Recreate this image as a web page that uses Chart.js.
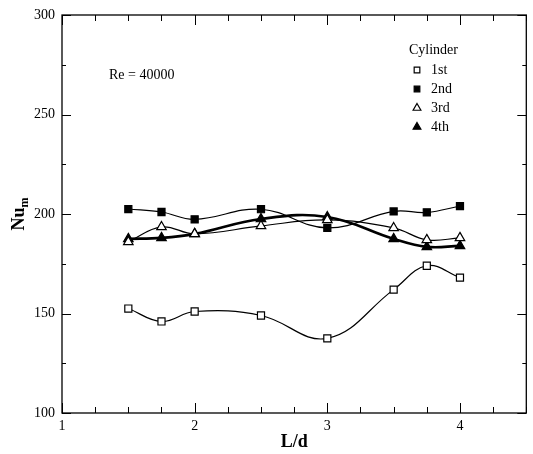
<!DOCTYPE html>
<html>
<head>
<meta charset="utf-8">
<script src="https://cdn.jsdelivr.net/npm/chart.js@4.4.0/dist/chart.umd.min.js"></script>
<style>
html,body{margin:0;padding:0;background:#fff;}
#wrap{width:533px;height:454px;position:relative;}
</style>
</head>
<body>
<div id="wrap"><canvas id="c" width="533" height="454"></canvas></div>
<script>
const ldValues = [1.5, 1.75, 2, 2.5, 3, 3.5, 3.75, 4];
const cyl1 = [152.5, 146, 151, 149, 137.5, 162, 174, 168];
const cyl2 = [202.5, 201, 197.3, 202.4, 193, 201.3, 200.8, 204];
const cyl3 = [186, 193.5, 190, 194, 197, 193, 187, 188];
const cyl4 = [187.5, 188, 190, 197.5, 198.5, 187.5, 183.5, 184];
const seriesNames = ['1st', '2nd', '3rd', '4th'];
const xTickLabels = ['1', '2', '3', '4'];
const yTickLabels = ['100', '150', '200', '250', '300'];

const SERIF = '"Liberation Serif", "DejaVu Serif", serif';

function pts(vals){ return ldValues.map((x,i)=>({x:x, y:vals[i]})); }

const styles = [
  {pointStyle:'rect', bg:'#fff', r:5, bw:1.2, lw:1.2},
  {pointStyle:'rect', bg:'#000', r:5, bw:1.2, lw:1.2},
  {pointStyle:'triangle', bg:'#fff', r:5.5, bw:1.2, lw:1.2},
  {pointStyle:'triangle', bg:'#000', r:5.5, bw:1.2, lw:2.6}
];
const allVals = [cyl1, cyl2, cyl3, cyl4];

const datasets = allVals.map((v,i)=>({
  label: seriesNames[i],
  data: pts(v),
  borderColor:'#000',
  borderWidth: styles[i].lw,
  tension: 0.4,
  pointStyle: styles[i].pointStyle,
  pointRadius: styles[i].r,
  pointBackgroundColor: styles[i].bg,
  pointBorderColor: '#000',
  pointBorderWidth: styles[i].bw,
  fill:false
}));

const framePlugin = {
  id:'frame',
  afterDraw(chart){
    const ctx = chart.ctx;
    const a = chart.chartArea;
    const xs = chart.scales.x, ys = chart.scales.y;
    ctx.save();
    ctx.strokeStyle = '#000';
    ctx.lineWidth = 1.3;
    ctx.strokeRect(a.left, a.top, a.right - a.left, a.bottom - a.top);
    ctx.lineWidth = 1;
    ctx.beginPath();
    for (let v = 1; v <= 4.5 + 1e-9; v += 0.25){
      const px = Math.round(xs.getPixelForValue(v)) + 0.5;
      const major = Math.abs(v - Math.round(v)) < 1e-6;
      const len = major ? 10 : 6;
      ctx.moveTo(px, a.bottom); ctx.lineTo(px, a.bottom - len);
      ctx.moveTo(px, a.top); ctx.lineTo(px, a.top + len);
    }
    for (let v = 100; v <= 300; v += 25){
      const py = Math.round(ys.getPixelForValue(v)) + 0.5;
      const major = v % 50 === 0;
      const len = major ? 9 : 4;
      ctx.moveTo(a.left, py); ctx.lineTo(a.left + len, py);
      ctx.moveTo(a.right, py); ctx.lineTo(a.right - len, py);
    }
    ctx.stroke();

    // axis titles
    ctx.fillStyle = '#000';
    ctx.font = 'bold 18px ' + SERIF;
    ctx.textAlign = 'center';
    ctx.textBaseline = 'alphabetic';
    ctx.fillText('L/d', (a.left + a.right)/2, 447);

    ctx.save();
    ctx.translate(24, (a.top + a.bottom)/2);
    ctx.rotate(-Math.PI/2);
    ctx.font = 'bold 18px ' + SERIF;
    const w1 = ctx.measureText('Nu').width;
    ctx.font = 'bold 12px ' + SERIF;
    const w2 = ctx.measureText('m').width;
    const start = -(w1 + w2)/2;
    ctx.textAlign = 'left';
    ctx.font = 'bold 18px ' + SERIF;
    ctx.fillText('Nu', start, 0);
    ctx.font = 'bold 12px ' + SERIF;
    ctx.fillText('m', start + w1, 4);
    ctx.restore();

    // annotation
    ctx.font = '14px ' + SERIF;
    ctx.textAlign = 'left';
    ctx.textBaseline = 'middle';
    ctx.fillText('Re = 40000', 109, 75);

    // legend
    ctx.fillText('Cylinder', 409, 50);
    const ly = [70, 89, 108, 127];
    chart.data.datasets.forEach((ds, i) => {
      ctx.save();
      ctx.lineWidth = 1.2;
      ctx.strokeStyle = '#000';
      ctx.fillStyle = ds.pointBackgroundColor;
      Chart.helpers.drawPoint(ctx, {pointStyle: ds.pointStyle, radius: ds.pointRadius - 1, rotation: 0, borderWidth: 1.2}, 417, ly[i]);
      ctx.restore();
      ctx.fillStyle = '#000';
      ctx.fillText(ds.label, 431, ly[i]);
    });
    ctx.restore();
  }
};

new Chart(document.getElementById('c'), {
  type:'line',
  data:{datasets},
  options:{
    responsive:false,
    animation:false,
    devicePixelRatio:1,
    layout:{padding:{top:15, right:3, left:0, bottom:0}},
    plugins:{legend:{display:false}, tooltip:{enabled:false}},
    scales:{
      x:{
        type:'linear', min:1, max:4.5,
        grid:{display:false, drawTicks:false},
        border:{display:false},
        afterFit(s){ s.height = 41; s.paddingRight = 0; s.paddingLeft = 0; },
        afterBuildTicks(s){ s.ticks = xTickLabels.map(t=>({value:Number(t)})); },
        ticks:{
          padding:5, color:'#000', font:{family:SERIF, size:14},
          callback:(v)=> xTickLabels.includes(String(v)) ? String(v) : ''
        }
      },
      y:{
        type:'linear', min:100, max:300,
        grid:{display:false, drawTicks:false},
        border:{display:false},
        afterFit(s){ s.width = 62; s.paddingTop = 0; s.paddingBottom = 0; },
        afterBuildTicks(s){ s.ticks = yTickLabels.map(t=>({value:Number(t)})); },
        ticks:{
          padding:7, color:'#000', font:{family:SERIF, size:14},
          callback:(v)=> String(v)
        }
      }
    }
  },
  plugins:[framePlugin]
});
</script>
</body>
</html>
